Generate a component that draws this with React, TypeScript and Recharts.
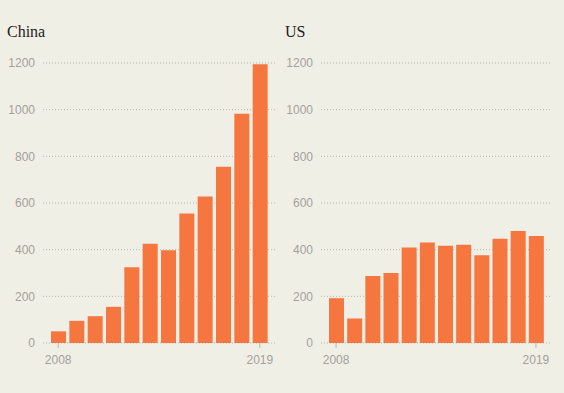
import { BarChart, Bar, XAxis, YAxis, CartesianGrid } from "recharts"

const years = [2008, 2009, 2010, 2011, 2012, 2013, 2014, 2015, 2016, 2017, 2018, 2019]
const chinaValues = [50, 95, 115, 155, 325, 425, 397, 555, 628, 755, 982, 1195]
const usValues = [192, 105, 287, 300, 409, 431, 417, 421, 376, 447, 480, 459]
const yTicks = [0, 200, 400, 600, 800, 1000, 1200]
const shownYears = [2008, 2019]

const bg = "#f0efe6"
const barColor = "#f5763f"
const gridColor = "#b9b7ae"
const labelColor = "#a3a19b"

const YearTick = (props: any) => {
  const { x, y, payload } = props
  if (!shownYears.includes(payload.value)) return null
  return (
    <g>
      <line x1={x} x2={x} y1={y} y2={y + 5} stroke={gridColor} />
      <text x={x} y={y + 21} textAnchor="middle" fill={labelColor} fontSize={12} fontFamily="Liberation Sans, Arial, sans-serif">
        {payload.value}
      </text>
    </g>
  )
}

function Panel({ title, values, left, yWidth, right }: { title: string; values: number[]; left: number; yWidth: number; right: number }) {
  const data = years.map((year, i) => ({ year, value: values[i] }))
  return (
    <div style={{ position: "absolute", left, top: 0, width: 282, height: 393 }}>
      <div
        style={{
          position: "absolute",
          left: left === 0 ? 7 : 3,
          top: 23,
          fontFamily: "Liberation Serif, Times New Roman, serif",
          fontSize: 16,
          color: "#222",
        }}
      >
        {title}
      </div>
      <BarChart
        width={282}
        height={393}
        data={data}
        margin={{ top: 63, right, bottom: 20, left: 0 }}
        barSize={15}
      >
        <CartesianGrid vertical={false} stroke={gridColor} strokeDasharray="1 2" />
        <XAxis
          dataKey="year"
          type="category"
          axisLine={false}
          tickLine={false}
          tickSize={0}
          tickMargin={0}
          height={30}
          interval={0}
          padding={{ left: 6, right: 6 }}
          tick={<YearTick />}
        />
        <YAxis
          domain={[0, 1200]}
          ticks={yTicks}
          width={yWidth}
          axisLine={false}
          tickLine={false}
          tick={{ fill: labelColor, fontSize: 12, fontFamily: "Liberation Sans, Arial, sans-serif" }}
        />
        <Bar dataKey="value" fill={barColor} isAnimationActive={false} />
      </BarChart>
    </div>
  )
}

export default function App() {
  return (
    <div style={{ position: "fixed", left: 0, top: 0, width: 564, height: 393, background: bg, overflow: "hidden" }}>
      <Panel title="China" values={chinaValues} left={0} yWidth={43} right={7} />
      <Panel title="US" values={usValues} left={282} yWidth={39} right={13} />
    </div>
  )
}
